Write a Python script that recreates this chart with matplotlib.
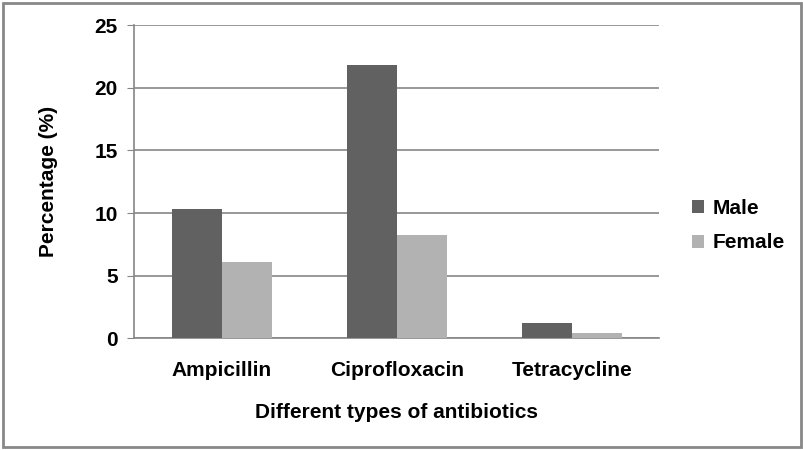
import matplotlib.pyplot as plt
import numpy as np

antibiotics = ['Ampicillin', 'Ciprofloxacin', 'Tetracycline']
male = [10.3, 21.8, 1.2]
female = [6.1, 8.25, 0.42]
yticks = [0, 5, 10, 15, 20, 25]

plt.rcParams['font.family'] = ['Liberation Sans', 'DejaVu Sans']
plt.rcParams['font.weight'] = 'bold'

fig = plt.figure(figsize=(8.04, 4.5), dpi=100)
ax = fig.add_axes([0.167, 0.248, 0.653, 0.696])

x = np.arange(len(antibiotics))
w = 0.2857
ax.bar(x - w / 2, male, w, color='#616161', label='Male', zorder=3)
ax.bar(x + w / 2, female, w, color='#b2b2b2', label='Female', zorder=3)

ax.set_xlim(-0.5, 2.5)
ax.set_ylim(0, 25)
ax.set_yticks(yticks)
ax.yaxis.grid(True, color='#868686', linewidth=1.2, zorder=0)
for s in ['top', 'right']:
    ax.spines[s].set_visible(False)
for s in ['left', 'bottom']:
    ax.spines[s].set_color('#868686')
    ax.spines[s].set_linewidth(1.2)
ax.tick_params(axis='y', length=5, color='#868686', labelsize=15, pad=7)
ax.tick_params(axis='x', length=0, labelsize=15, pad=16)
ax.set_xticks(x)
ax.set_xticklabels(antibiotics)

ax.set_ylabel('Percentage (%)', fontsize=15, fontweight='bold')
ax.yaxis.set_label_coords(-0.145, 0.5)
ax.set_xlabel('Different types of antibiotics', fontsize=15, fontweight='bold')
ax.xaxis.set_label_coords(0.5, -0.207)

ax.legend(loc='center left', bbox_to_anchor=(1.026, 0.36), frameon=False,
          fontsize=15, handlelength=0.6, handleheight=0.6, handletextpad=0.4,
          labelspacing=0.75)

# outer chart border
fig.patches.append(plt.Rectangle((0.004, 0.007), 0.992, 0.986, transform=fig.transFigure,
                                 fill=False, edgecolor='#888888', linewidth=2))

plt.savefig('out.png', dpi=100)
